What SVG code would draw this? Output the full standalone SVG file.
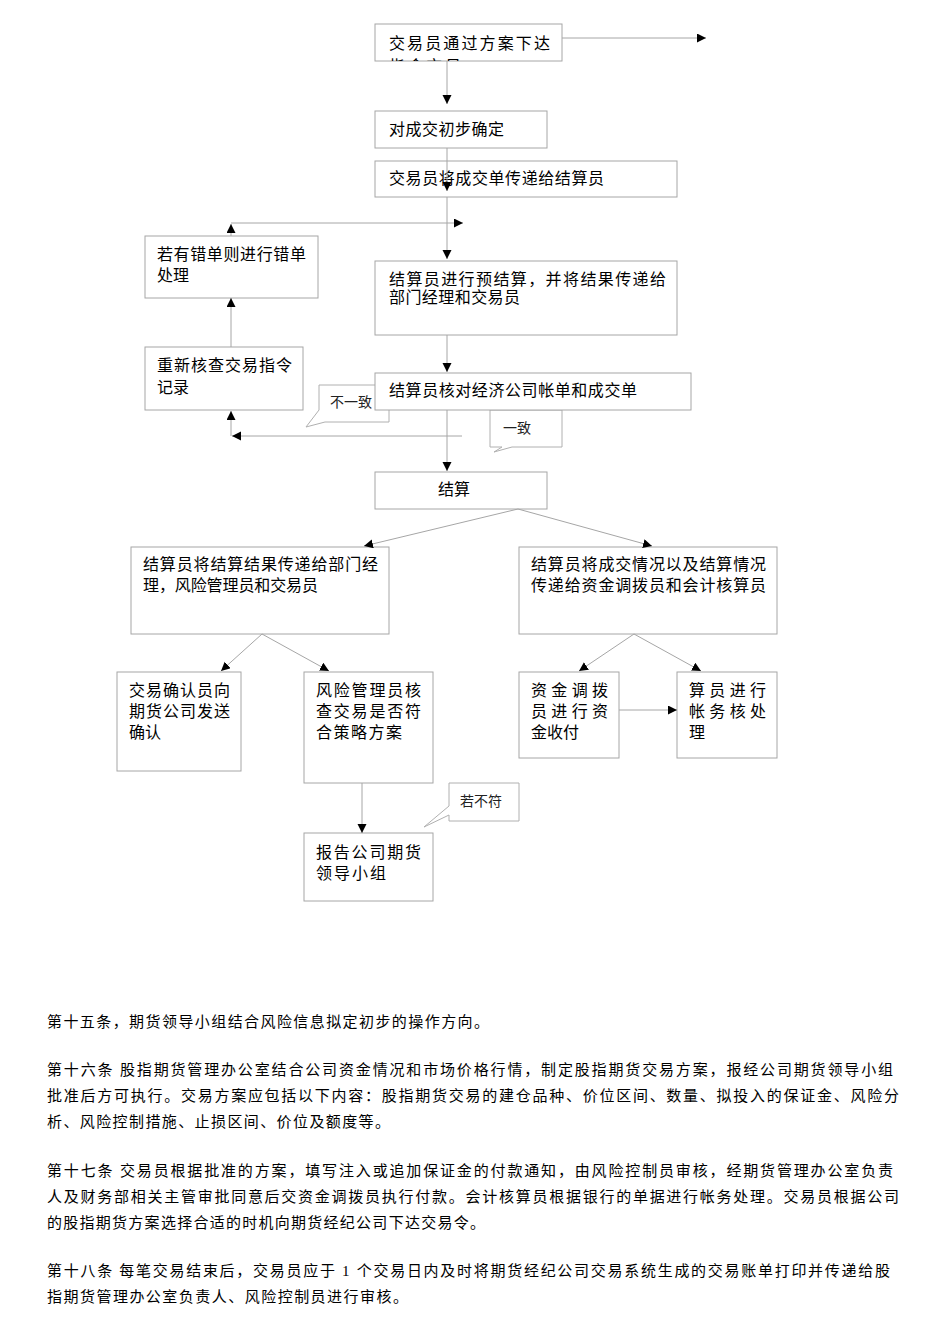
<svg xmlns="http://www.w3.org/2000/svg" width="950" height="1344" viewBox="0 0 950 1344">
<style>
.bx{fill:#fff;stroke:#a6a6a6;stroke-width:1}
.co{fill:#fff;stroke:#b0b0b0;stroke-width:1}
.ln{fill:none;stroke:#a6a6a6;stroke-width:1}
.t{font-family:"Liberation Sans","Noto Sans CJK SC",sans-serif;font-size:16px;fill:#000}
.ts{font-family:"Liberation Sans","Noto Sans CJK SC",sans-serif;font-size:14px;fill:#222}
.p{font-family:"Liberation Serif","Noto Sans CJK SC",serif;font-size:15px;fill:#000}
</style>
<defs>
<marker id="ah" markerUnits="userSpaceOnUse" markerWidth="10" markerHeight="10" refX="9" refY="4.5" orient="auto"><path d="M0,0 L9,4.5 L0,9 Z" fill="#000"/></marker>
<clipPath id="c1"><rect x="375" y="24" width="187" height="37"/></clipPath>
</defs>

<g id="callouts">
<g id="callout-buyizhi"><path class="co" d="M319,385 H389 V422 H325 L306,427 L319,410 Z"/><text class="ts" x="330" y="407">不一致</text></g>
<g id="callout-yizhi"><path class="co" d="M490,410 H562 V447 H512 L494,452 L502,447 H490 Z"/><text class="ts" x="503" y="433">一致</text></g>
<g id="callout-ruobufu"><path class="co" d="M449,783 H519 V821 H449 V815 L424,827 L449,806 Z"/><text class="ts" x="460" y="806">若不符</text></g>
</g>

<g id="n1"><rect class="bx" x="375" y="24" width="187" height="37"/>
<g clip-path="url(#c1)"><text class="t" x="389" y="49" textLength="161" lengthAdjust="spacing">交易员通过方案下达</text><text class="t" x="389" y="72" textLength="72" lengthAdjust="spacing">指令交易</text></g></g>
<g id="n2"><rect class="bx" x="375" y="111" width="172" height="37"/><text class="t" x="389" y="135" textLength="115" lengthAdjust="spacing">对成交初步确定</text></g>
<g id="n3"><rect class="bx" x="375" y="161" width="302" height="36"/><text class="t" x="389" y="184" textLength="215" lengthAdjust="spacing">交易员将成交单传递给结算员</text></g>
<g id="n4"><rect class="bx" x="145" y="236" width="173" height="62"/><text class="t" x="157" y="260" textLength="149" lengthAdjust="spacing">若有错单则进行错单</text><text class="t" x="157" y="281">处理</text></g>
<g id="n5"><rect class="bx" x="375" y="261" width="302" height="74"/><text class="t" x="389" y="285" textLength="277" lengthAdjust="spacing">结算员进行预结算，并将结果传递给</text><text class="t" x="389" y="303" textLength="131" lengthAdjust="spacing">部门经理和交易员</text></g>
<g id="n6"><rect class="bx" x="145" y="347" width="158" height="63"/><text class="t" x="157" y="371" textLength="135" lengthAdjust="spacing">重新核查交易指令</text><text class="t" x="157" y="393">记录</text></g>
<g id="n7"><rect class="bx" x="375" y="373" width="316" height="37"/><text class="t" x="389" y="396" textLength="248" lengthAdjust="spacing">结算员核对经济公司帐单和成交单</text></g>
<g id="n8"><rect class="bx" x="375" y="472" width="172" height="37"/><text class="t" x="454" y="495" text-anchor="middle">结算</text></g>
<g id="n9"><rect class="bx" x="131" y="547" width="258" height="87"/><text class="t" x="143" y="570" textLength="235" lengthAdjust="spacing">结算员将结算结果传递给部门经</text><text class="t" x="143" y="591" textLength="175" lengthAdjust="spacing">理，风险管理员和交易员</text></g>
<g id="n10"><rect class="bx" x="519" y="547" width="258" height="87"/><text class="t" x="531" y="570" textLength="235" lengthAdjust="spacing">结算员将成交情况以及结算情况</text><text class="t" x="531" y="591" textLength="235" lengthAdjust="spacing">传递给资金调拨员和会计核算员</text></g>
<g id="n11"><rect class="bx" x="117" y="672" width="124" height="99"/><text class="t" x="129" y="696" textLength="101" lengthAdjust="spacing">交易确认员向</text><text class="t" x="129" y="717" textLength="101" lengthAdjust="spacing">期货公司发送</text><text class="t" x="129" y="738">确认</text></g>
<g id="n12"><rect class="bx" x="304" y="672" width="129" height="111"/><text class="t" x="316" y="696" textLength="105" lengthAdjust="spacing">风险管理员核</text><text class="t" x="316" y="717" textLength="105" lengthAdjust="spacing">查交易是否符</text><text class="t" x="316" y="738" textLength="86" lengthAdjust="spacing">合策略方案</text></g>
<g id="n13"><rect class="bx" x="519" y="672" width="100" height="86"/><text class="t" x="531" y="696" textLength="77" lengthAdjust="spacing">资金调拨</text><text class="t" x="531" y="717" textLength="77" lengthAdjust="spacing">员进行资</text><text class="t" x="531" y="738">金收付</text></g>
<g id="n14"><rect class="bx" x="677" y="672" width="100" height="86"/><text class="t" x="689" y="696" textLength="77" lengthAdjust="spacing">算员进行</text><text class="t" x="689" y="717" textLength="77" lengthAdjust="spacing">帐务核处</text><text class="t" x="689" y="738">理</text></g>
<g id="n15"><rect class="bx" x="304" y="833" width="129" height="68"/><text class="t" x="316" y="858" textLength="105" lengthAdjust="spacing">报告公司期货</text><text class="t" x="316" y="879" textLength="70" lengthAdjust="spacing">领导小组</text></g>

<g id="connectors" class="ln">
<path d="M562,38 H706" marker-end="url(#ah)"/>
<path d="M447,61 V104" marker-end="url(#ah)"/>
<path d="M447,148 V191" marker-end="url(#ah)"/>
<path d="M447,197 V259" marker-end="url(#ah)"/>
<path d="M231,223 H463" marker-end="url(#ah)"/>
<path d="M231,236 V224" marker-end="url(#ah)"/>
<path d="M231,347 V298" marker-end="url(#ah)"/>
<path d="M447,335 V372" marker-end="url(#ah)"/>
<path d="M462,436 H232" marker-end="url(#ah)"/>
<path d="M231,436 V411" marker-end="url(#ah)"/>
<path d="M447,410 V471" marker-end="url(#ah)"/>
<path d="M518,509 L364,546" marker-end="url(#ah)"/>
<path d="M518,509 L652,546" marker-end="url(#ah)"/>
<path d="M262,634 L221,671" marker-end="url(#ah)"/>
<path d="M262,634 L329,671" marker-end="url(#ah)"/>
<path d="M634,634 L579,671" marker-end="url(#ah)"/>
<path d="M634,634 L701,671" marker-end="url(#ah)"/>
<path d="M619,710 H677" marker-end="url(#ah)"/>
<path d="M362,783 V833" marker-end="url(#ah)"/>
</g>

<g id="body-text">
<text class="p" x="47" y="1027" textLength="442" lengthAdjust="spacing">第十五条，期货领导小组结合风险信息拟定初步的操作方向。</text>
<text class="p" x="47" y="1075" textLength="846" lengthAdjust="spacing">第十六条 股指期货管理办公室结合公司资金情况和市场价格行情，制定股指期货交易方案，报经公司期货领导小组</text>
<text class="p" x="47" y="1101" textLength="852" lengthAdjust="spacing">批准后方可执行。交易方案应包括以下内容：股指期货交易的建仓品种、价位区间、数量、拟投入的保证金、风险分</text>
<text class="p" x="47" y="1127" textLength="343" lengthAdjust="spacing">析、风险控制措施、止损区间、价位及额度等。</text>
<text class="p" x="47" y="1176" textLength="846" lengthAdjust="spacing">第十七条 交易员根据批准的方案，填写注入或追加保证金的付款通知，由风险控制员审核，经期货管理办公室负责</text>
<text class="p" x="47" y="1202" textLength="852" lengthAdjust="spacing">人及财务部相关主管审批同意后交资金调拨员执行付款。会计核算员根据银行的单据进行帐务处理。交易员根据公司</text>
<text class="p" x="47" y="1228" textLength="438" lengthAdjust="spacing">的股指期货方案选择合适的时机向期货经纪公司下达交易令。</text>
<text class="p" x="47" y="1276" textLength="843" lengthAdjust="spacing">第十八条 每笔交易结束后，交易员应于 1 个交易日内及时将期货经纪公司交易系统生成的交易账单打印并传递给股</text>
<text class="p" x="47" y="1302" textLength="361" lengthAdjust="spacing">指期货管理办公室负责人、风险控制员进行审核。</text>
</g>
</svg>
